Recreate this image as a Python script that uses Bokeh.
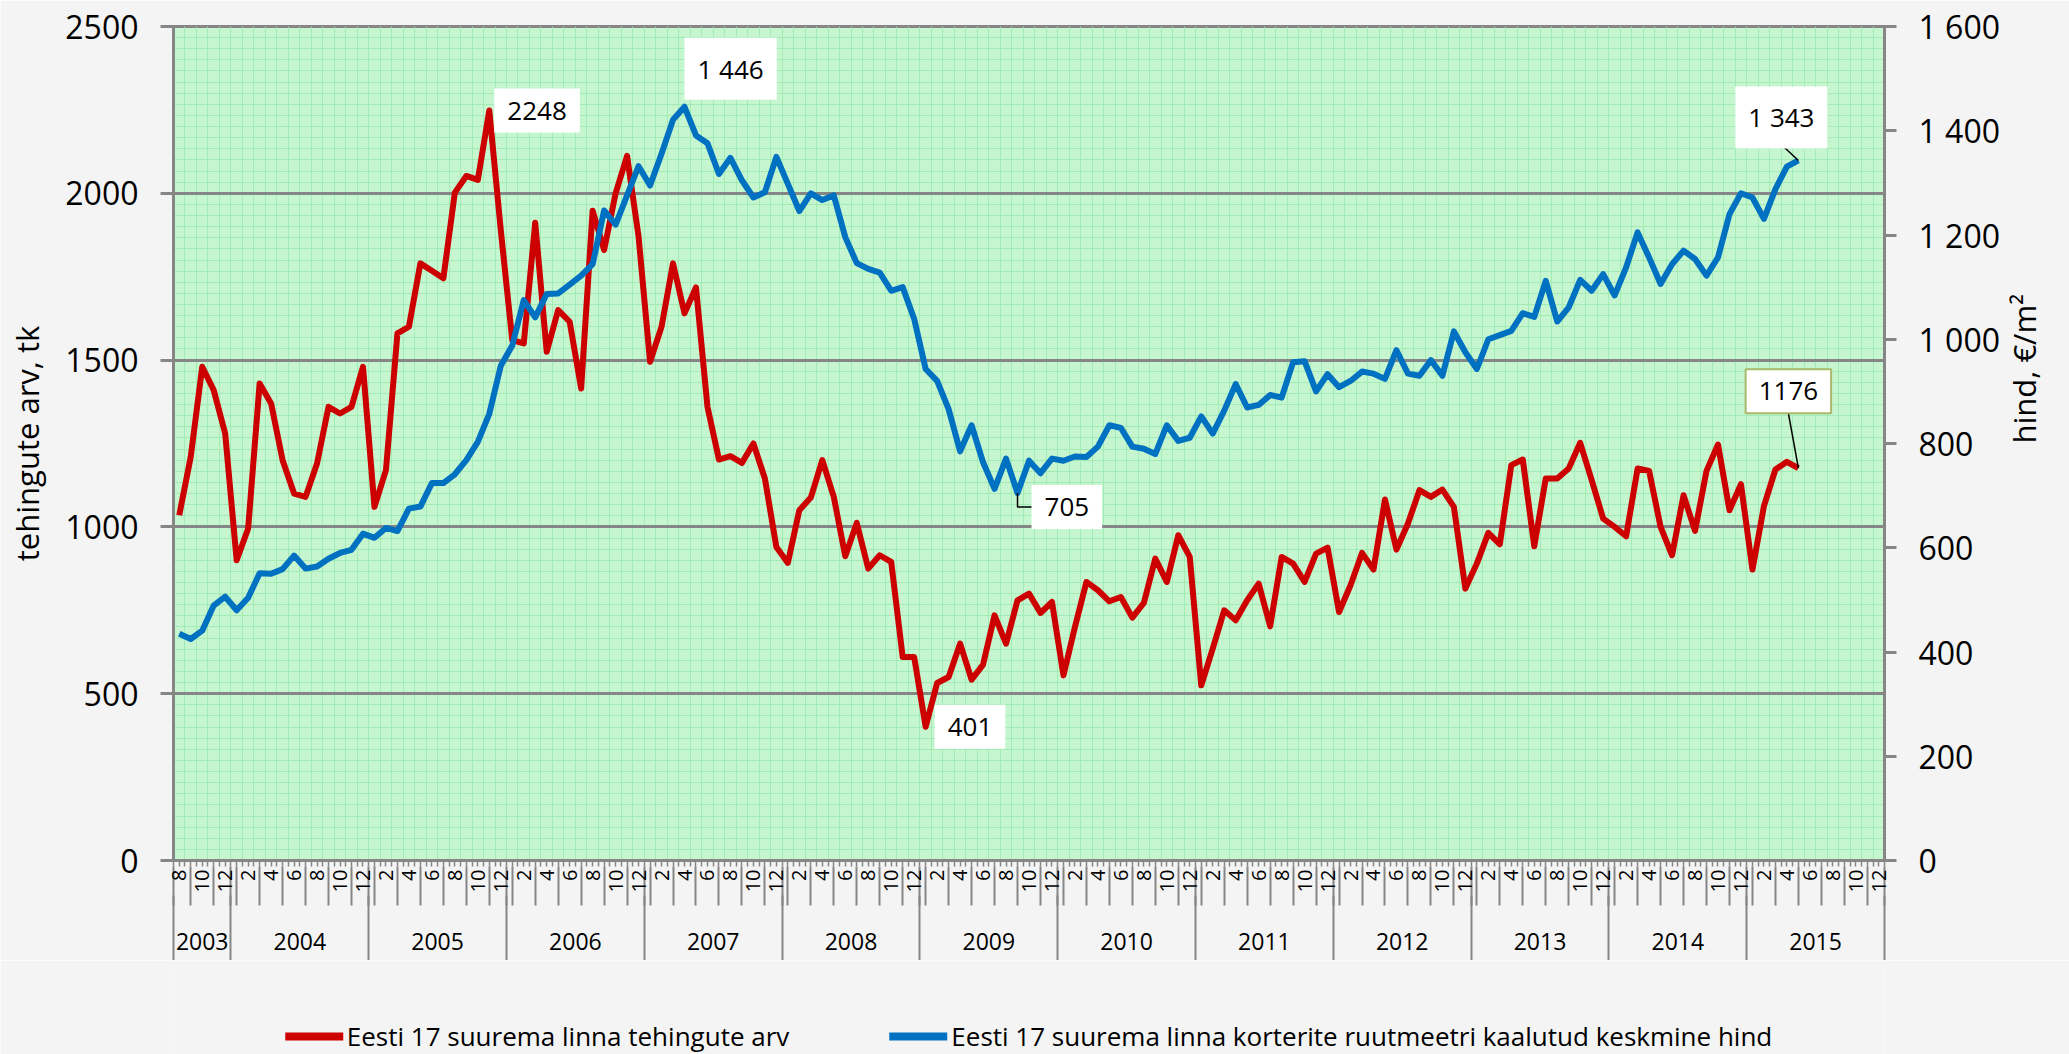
import math
from bokeh.plotting import figure
from bokeh.layouts import column
from bokeh.models import (Range1d, LinearAxis, FixedTicker, Label, Legend,
                          LegendItem, ColumnDataSource)
from bokeh.embed import file_html
from bokeh.resources import INLINE

# ---------------- data ----------------
FIRST_YEAR, FIRST_MONTH = 2003, 8
N_SLOTS = 149  # Aug 2003 .. Dec 2015 (category slots on the x axis)

years = ["2003", "2004", "2005", "2006", "2007", "2008", "2009",
         "2010", "2011", "2012", "2013", "2014", "2015"]

# Eesti 17 suurema linna tehingute arv (monthly, Aug 2003 .. May 2015)
transactions = [
    1035, 1210, 1480, 1410, 1280, 900, 995, 1430, 1370, 1200,
    1100, 1090, 1190, 1360, 1340, 1360, 1480, 1060, 1170, 1580,
    1600, 1790, 1768, 1745, 2002, 2052, 2040, 2248, 1890, 1560,
    1550, 1912, 1525, 1650, 1615, 1415, 1948, 1830, 2000, 2112,
    1870, 1495, 1600, 1790, 1640, 1718, 1360, 1202, 1212, 1192,
    1250, 1145, 940, 892, 1050, 1088, 1200, 1090, 912, 1012,
    875, 915, 895, 610, 610, 401, 532, 550, 650, 542,
    587, 735, 650, 780, 800, 742, 775, 555, 700, 835,
    810, 777, 790, 728, 772, 905, 835, 975, 910, 525,
    635, 750, 720, 780, 830, 702, 910, 890, 835, 920,
    938, 745, 825, 922, 872, 1082, 932, 1010, 1110, 1090,
    1112, 1060, 815, 890, 982, 948, 1185, 1202, 942, 1145,
    1145, 1175, 1252, 1140, 1025, 1000, 972, 1175, 1168, 1000,
    915, 1095, 988, 1168, 1247, 1050, 1128, 872, 1062, 1172,
    1195, 1176,
]

# Eesti 17 suurema linna korterite ruutmeetri kaalutud keskmine hind (EUR/m2)
price = [
    435, 425, 441, 489, 506, 480, 504, 551, 550, 559,
    585, 560, 564, 579, 590, 596, 627, 619, 638, 632,
    675, 679, 724, 724, 741, 768, 803, 857, 949, 988,
    1075, 1042, 1087, 1088, 1105, 1122, 1144, 1247, 1220, 1276,
    1332, 1295, 1356, 1421, 1446, 1391, 1376, 1317, 1348, 1305,
    1272, 1282, 1350, 1298, 1246, 1280, 1267, 1276, 1196, 1146,
    1135, 1128, 1093, 1100, 1039, 943, 920, 866, 785, 835,
    764, 713, 771, 705, 767, 743, 771, 767, 775, 774,
    794, 835, 830, 794, 790, 780, 835, 805, 811, 852,
    819, 863, 914, 869, 874, 893, 888, 956, 958, 900,
    933, 908, 920, 938, 934, 924, 979, 934, 930, 960,
    930, 1015, 975, 943, 1000, 1008, 1016, 1050, 1043, 1112,
    1034, 1061, 1114, 1093, 1125, 1084, 1138, 1205, 1157, 1106,
    1144, 1170, 1154, 1122, 1157, 1240, 1280, 1272, 1231, 1288,
    1331, 1343,
]

left_ticks = [0, 500, 1000, 1500, 2000, 2500]
right_ticks = [0, 200, 400, 600, 800, 1000, 1200, 1400, 1600]
right_tick_labels = ["0", "200", "400", "600", "800", "1 000", "1 200", "1 400", "1 600"]

legend_labels = ["Eesti 17 suurema linna tehingute arv",
                 "Eesti 17 suurema linna korterite ruutmeetri kaalutud keskmine hind"]
left_title = "tehingute arv, tk"
right_title = "hind, €/m²"

# ---------------- calendar helpers ----------------
slot_month = [(FIRST_MONTH - 1 + i) % 12 + 1 for i in range(N_SLOTS)]
even_slots = [i for i in range(N_SLOTS) if slot_month[i] % 2 == 0]
odd_slots = [i for i in range(N_SLOTS) if slot_month[i] % 2 == 1]
year_bounds = [-0.5] + [i - 0.5 for i in range(1, N_SLOTS) if slot_month[i] == 1] + [N_SLOTS - 0.5]
year_centers = [(year_bounds[k] + year_bounds[k + 1]) / 2 for k in range(len(years))]

# ---------------- layout constants ----------------
W = 2069
H_MAIN, H_LEG = 960, 94
BL, BR, BT, BB = 173, 185, 26, 100
FW, FH = W - BL - BR, H_MAIN - BT - BB
GRAY = "#868686"
FONT = "Open Sans"
RED = "#cc0000"
BLUE = "#0070c0"
PAGE = "#f4f4f4"

mpp = N_SLOTS / FW          # slots per pixel
lpp = 2500 / FH             # left units per pixel
ppp = 1600 / FH             # price units per pixel

p = figure(width=W, height=H_MAIN, x_range=Range1d(-0.5, N_SLOTS - 0.5),
           y_range=Range1d(0, 2500), output_backend="svg", toolbar_location=None,
           min_border_left=BL, min_border_right=BR, min_border_top=BT,
           min_border_bottom=BB)
p.extra_y_ranges = {"price": Range1d(0, 1600)}

p.background_fill_color = "#c6f6d0"
p.border_fill_color = PAGE
p.outline_line_color = GRAY
p.outline_line_width = 3

# grids
p.xgrid.ticker = FixedTicker(ticks=[], minor_ticks=[i - 0.5 for i in range(N_SLOTS + 1)])
p.xgrid.grid_line_color = None
p.xgrid.minor_grid_line_color = "#a3ebb5"
p.xgrid.minor_grid_line_width = 1

p.ygrid.ticker = FixedTicker(ticks=left_ticks, minor_ticks=[k * 500 / 15 for k in range(76)])
p.ygrid.grid_line_color = GRAY
p.ygrid.grid_line_width = 3
p.ygrid.minor_grid_line_color = "#a3ebb5"
p.ygrid.minor_grid_line_width = 1

# bottom axis 0: ruler ticks (minor ticks only, no labels)
ax0 = p.xaxis[0]
ax0.ticker = FixedTicker(ticks=[], minor_ticks=[k / 2 - 0.5 for k in range(2 * N_SLOTS + 1)])
ax0.major_tick_out = 0
ax0.major_tick_in = 0
ax0.minor_tick_out = 6
ax0.minor_tick_in = 0
ax0.minor_tick_line_color = GRAY
ax0.minor_tick_line_width = 1.5
ax0.major_label_standoff = 0
ax0.axis_line_color = GRAY
ax0.axis_line_width = 3

# bottom axis A: month labels
axA = LinearAxis(ticker=FixedTicker(ticks=even_slots, minor_ticks=odd_slots + year_bounds),
                 major_label_overrides={i: str(slot_month[i]) for i in even_slots},
                 major_label_orientation=math.pi / 2,
                 major_tick_out=0, major_tick_in=0,
                 minor_tick_out=39, minor_tick_in=0,
                 minor_tick_line_color=GRAY, minor_tick_line_width=2,
                 axis_line_color=None, major_label_standoff=-36,
                 major_label_text_font=FONT, major_label_text_font_size="20px",
                 major_label_text_color="black")
p.add_layout(axA, "below")

# bottom axis B: years
axB = LinearAxis(ticker=FixedTicker(ticks=year_centers, minor_ticks=year_bounds),
                 major_label_overrides={c: y for c, y in zip(year_centers, years)},
                 major_tick_out=0, major_tick_in=0,
                 minor_tick_out=67, minor_tick_in=0,
                 minor_tick_line_color=GRAY, minor_tick_line_width=2,
                 axis_line_color=None, major_label_standoff=-30,
                 major_label_text_font=FONT, major_label_text_font_size="23px",
                 major_label_text_color="black")
p.add_layout(axB, "below")

# left axis
ay = p.yaxis[0]
ay.ticker = FixedTicker(ticks=left_ticks)
ay.major_tick_out = 13
ay.major_tick_in = 0
ay.minor_tick_out = 0
ay.minor_tick_in = 0
ay.major_tick_line_color = GRAY
ay.major_tick_line_width = 3
ay.axis_line_color = GRAY
ay.axis_line_width = 3
ay.major_label_text_font = FONT
ay.major_label_text_font_size = "32px"
ay.major_label_text_color = "black"
ay.major_label_standoff = 22
ay.axis_label = left_title
ay.axis_label_text_font = FONT
ay.axis_label_text_font_size = "31px"
ay.axis_label_text_font_style = "normal"
ay.axis_label_text_color = "black"
ay.axis_label_standoff = 14

# right axis
ar = LinearAxis(y_range_name="price", ticker=FixedTicker(ticks=right_ticks),
                major_label_overrides={t: s for t, s in zip(right_ticks, right_tick_labels)},
                major_tick_out=12, major_tick_in=0, minor_tick_out=0, minor_tick_in=0,
                major_tick_line_color=GRAY, major_tick_line_width=3,
                axis_line_color=GRAY, axis_line_width=3,
                major_label_text_font=FONT, major_label_text_font_size="32px",
                major_label_text_color="black", major_label_standoff=22,
                axis_label=right_title, axis_label_text_font=FONT,
                axis_label_text_font_size="31px", axis_label_text_font_style="normal",
                axis_label_text_color="black", axis_label_standoff=21)
if "axis_label_orientation" in ar.properties():
    ar.axis_label_orientation = math.pi / 2
p.add_layout(ar, "right")

# series
src = ColumnDataSource(dict(x=list(range(len(transactions))), tx=transactions, pr=price))
r1 = p.line("x", "tx", source=src, line_color=RED, line_width=6, line_join="round")
r2 = p.line("x", "pr", source=src, line_color=BLUE, line_width=6, line_join="round",
            y_range_name="price")

# data labels + leader lines
i_max_tx = transactions.index(max(transactions))
i_min_tx = transactions.index(min(transactions))
i_max_pr = price.index(max(price))
i_low_pr = min(range(60, len(price)), key=lambda k: price[k])   # 2009 trough
i_last = len(price) - 1
PAD = 13


def fmt(v):
    return f"{v:,}".replace(",", " ")


def box(x, y, text, xo, yo, align, baseline, rng="default", border=None):
    lab = Label(x=x, y=y, x_offset=xo, y_offset=yo, text=text,
                text_align=align, text_baseline=baseline,
                text_font=FONT, text_font_size="26px", text_color="black",
                background_fill_color="white", padding=PAD)
    if rng != "default":
        lab.y_range_name = rng
    if border:
        lab.border_line_color = border
        lab.border_line_width = 2
    p.add_layout(lab)


box(i_max_tx, transactions[i_max_tx], str(transactions[i_max_tx]), 5, 0, "left", "middle")
box(i_min_tx, transactions[i_min_tx], str(transactions[i_min_tx]), 9, 0, "left", "middle")
box(i_max_pr, price[i_max_pr], fmt(price[i_max_pr]), 0, 7, "left", "bottom", "price")
box(i_low_pr, price[i_low_pr], fmt(price[i_low_pr]), 14, -14, "left", "middle", "price")
box(i_last, price[i_last], fmt(price[i_last]), -17, 12, "center", "bottom", "price")
box(i_last, transactions[i_last], str(transactions[i_last]), -10, 55, "center", "bottom",
    border="#a9b86a")

# leader lines
p.line([i_low_pr, i_low_pr, i_low_pr + 16 * mpp],
       [price[i_low_pr], price[i_low_pr] - 14 * ppp, price[i_low_pr] - 14 * ppp],
       line_color="black", line_width=1.5, y_range_name="price")
p.line([i_last, i_last - 15 * mpp], [price[i_last], price[i_last] + 14 * ppp],
       line_color="black", line_width=1.5, y_range_name="price")
p.line([i_last, i_last - 10 * mpp], [transactions[i_last], transactions[i_last] + 55 * lpp],
       line_color="black", line_width=1.5)

# ---------------- legend strip ----------------
# The strip's ranges keep the series themselves out of view; only the legend shows.
p2 = figure(width=W, height=H_LEG, x_range=Range1d(0, 1), y_range=Range1d(0, 1),
            output_backend="svg", toolbar_location=None,
            min_border_left=0, min_border_right=0, min_border_top=0, min_border_bottom=0)
p2.xaxis.visible = False
p2.yaxis.visible = False
p2.xgrid.visible = False
p2.ygrid.visible = False
p2.outline_line_color = None
p2.background_fill_color = PAGE
p2.border_fill_color = PAGE
l1 = p2.line("x", "tx", source=src, line_color=RED, line_width=8, line_cap="round")
l2 = p2.line("x", "pr", source=src, line_color=BLUE, line_width=8, line_cap="round")
legend = Legend(items=[LegendItem(label=legend_labels[0], renderers=[l1]),
                       LegendItem(label=legend_labels[1], renderers=[l2])],
                orientation="horizontal", location="bottom_center",
                glyph_width=58, glyph_height=30, label_standoff=4, spacing=100,
                padding=0, margin=0, border_line_color=None, background_fill_alpha=0,
                label_text_font=FONT, label_text_font_size="26px",
                label_text_color="black")
p2.add_layout(legend, "center")

layout = column(p, p2, spacing=0)
open("out.html", "w").write(file_html(layout, INLINE))
